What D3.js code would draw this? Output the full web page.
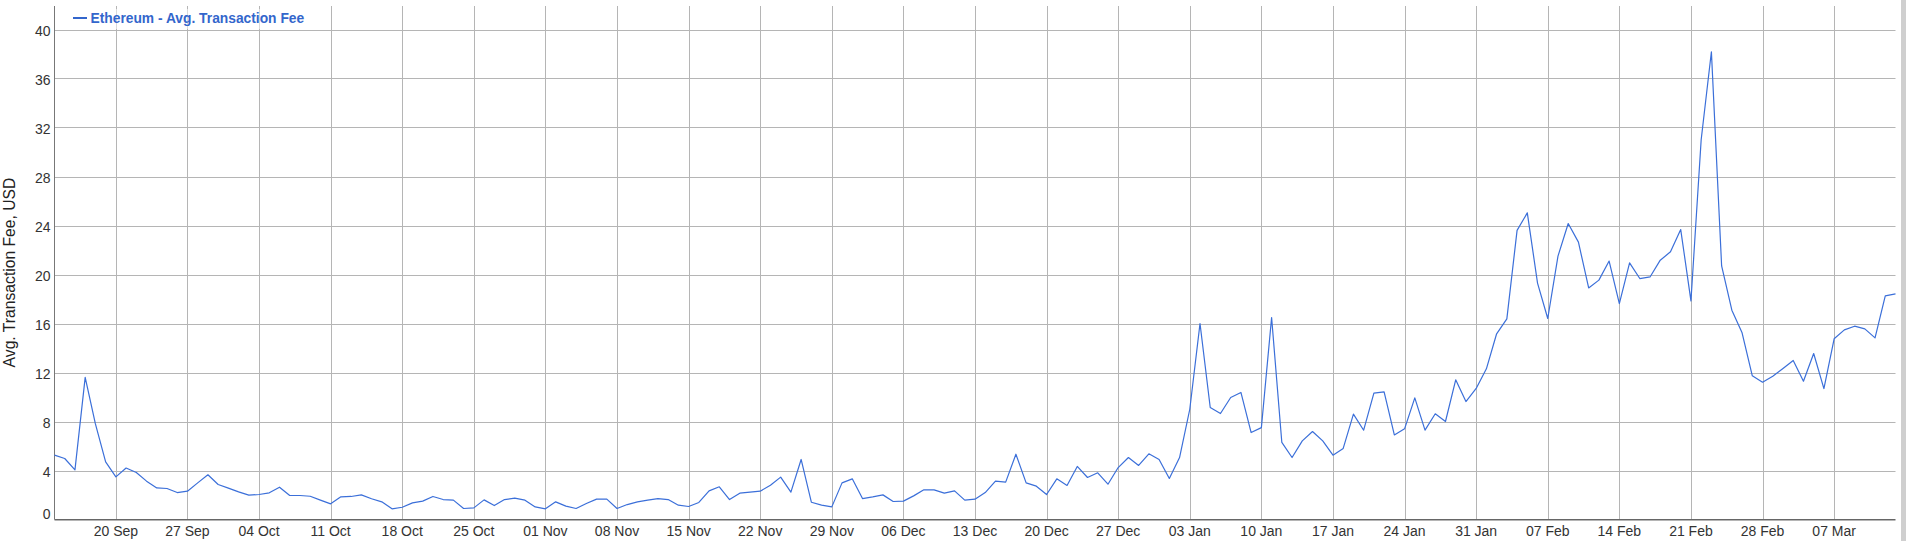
<!DOCTYPE html>
<html>
<head>
<meta charset="utf-8">
<script src="https://cdn.jsdelivr.net/npm/d3@7"></script>
<style>
  html, body { margin: 0; padding: 0; background: #fff; }
  svg { display: block; font-family: "Liberation Sans", Arial, sans-serif; }
</style>
</head>
<body>
<svg id="canvas" width="1906" height="541"></svg>
<script>
// daily values, first day 14 Sep 2020, last day 13 Mar 2021
let startDay = "2020-09-14"
let fees = [
  5.25, 4.98, 4.05, 11.6, 7.8, 4.7, 3.48, 4.2, 3.84, 3.13,
  2.58, 2.53, 2.2, 2.31, 2.99, 3.65, 2.86, 2.56, 2.26, 1.99,
  2.04, 2.18, 2.64, 1.96, 1.96, 1.9, 1.58, 1.28, 1.85, 1.88,
  2.01, 1.69, 1.44, 0.87, 1.0, 1.36, 1.5, 1.88, 1.63, 1.58,
  0.9, 0.95, 1.6, 1.14, 1.63, 1.74, 1.58, 1.03, 0.87, 1.44,
  1.09, 0.9, 1.31, 1.66, 1.66, 0.9, 1.22, 1.44, 1.58, 1.71,
  1.63, 1.17, 1.06, 1.39, 2.34, 2.67, 1.63, 2.15, 2.23, 2.31,
  2.8, 3.46, 2.23, 4.9, 1.41, 1.17, 1.03, 2.99, 3.32, 1.71,
  1.85, 2.01, 1.47, 1.5, 1.93, 2.42, 2.42, 2.15, 2.34, 1.58,
  1.66, 2.2, 3.13, 3.05, 5.33, 2.99, 2.72, 2.04, 3.32, 2.78,
  4.33, 3.43, 3.81, 2.88, 4.24, 5.06, 4.41, 5.36, 4.9, 3.35,
  5.06, 9.0, 16.0, 9.14, 8.65, 9.96, 10.37, 7.1, 7.5, 16.49,
  6.29, 5.06, 6.42, 7.18, 6.42, 5.25, 5.8, 8.6, 7.29, 10.31,
  10.42, 6.9, 7.4, 9.93, 7.3, 8.63, 8.0, 11.4, 9.63, 10.7,
  12.3, 15.16, 16.38, 23.6, 25.03, 19.3, 16.41, 21.5, 24.16, 22.64,
  18.9, 19.54, 21.1, 17.63, 20.95, 19.67, 19.8, 21.17, 21.85, 23.67,
  17.85, 31.0, 38.18, 20.7, 17.09, 15.24, 11.73, 11.21, 11.7, 12.33,
  12.98, 11.29, 13.55, 10.69, 14.75, 15.48, 15.78, 15.56, 14.83, 18.26,
  18.42
]
let yTicks = [0, 4, 8, 12, 16, 20, 24, 28, 32, 36, 40]
let seriesName = "Ethereum - Avg. Transaction Fee"
let yTitle = "Avg. Transaction Fee, USD"

let canvas = d3.select("#canvas")

let plotLeft = 54.5
let plotRight = 1895.5
let plotTop = 6
let plotBottom = 519.5

let start = new Date(startDay + "T00:00:00Z")
let data = fees.map((v, i) => {
  return { date: d3.utcDay.offset(start, i), value: v }
})

let xScale = d3.scaleUtc()
  .domain([data[0].date, data[data.length - 1].date])
  .range([plotLeft, plotRight])

let yScale = d3.scaleLinear()
  .domain([0, 40])
  .range([plotBottom, plotBottom - 40 * 12.25])

let weeks = xScale.ticks(d3.utcWeek.every(1))

// grid
canvas.append("g")
  .selectAll("line")
  .data(yTicks)
  .enter()
  .append("line")
  .attr("x1", plotLeft)
  .attr("x2", plotRight)
  .attr("y1", (d) => Math.round(yScale(d)) + 0.5)
  .attr("y2", (d) => Math.round(yScale(d)) + 0.5)
  .attr("stroke", "#b5b5b5")

canvas.append("g")
  .selectAll("line")
  .data(weeks)
  .enter()
  .append("line")
  .attr("x1", (d) => Math.round(xScale(d)) + 0.5)
  .attr("x2", (d) => Math.round(xScale(d)) + 0.5)
  .attr("y1", plotTop)
  .attr("y2", plotBottom)
  .attr("stroke", "#b5b5b5")

// axes lines
canvas.append("line")
  .attr("x1", plotLeft).attr("x2", plotLeft)
  .attr("y1", plotTop).attr("y2", plotBottom)
  .attr("stroke", "#777")
canvas.append("line")
  .attr("x1", plotLeft).attr("x2", plotRight)
  .attr("y1", plotBottom).attr("y2", plotBottom)
  .attr("stroke", "#666")
  .attr("stroke-width", 1.2)

// y tick labels
canvas.append("g")
  .selectAll("text")
  .data(yTicks)
  .enter()
  .append("text")
  .attr("x", 50.5)
  .attr("y", (d) => d === 0 ? yScale(d) - 1 : yScale(d) + 6.5)
  .attr("text-anchor", "end")
  .attr("font-size", "14px")
  .attr("fill", "#333")
  .text((d) => d)

// x tick labels
canvas.append("g")
  .selectAll("text")
  .data(weeks)
  .enter()
  .append("text")
  .attr("x", (d) => xScale(d))
  .attr("y", 536)
  .attr("text-anchor", "middle")
  .attr("font-size", "14px")
  .attr("fill", "#333")
  .text((d) => d3.utcFormat("%d %b")(d))

// y title
canvas.append("text")
  .attr("transform", "translate(14.5,272.5) rotate(-90)")
  .attr("text-anchor", "middle")
  .attr("font-size", "15.7px")
  .attr("fill", "#222")
  .text(yTitle)

// series
let line = d3.line()
  .x((d) => xScale(d.date))
  .y((d) => yScale(d.value))

canvas.append("path")
  .datum(data)
  .attr("d", line)
  .attr("fill", "none")
  .attr("stroke", "#3b6fd9")
  .attr("stroke-width", 1.2)
  .attr("stroke-linejoin", "round")

// legend
canvas.append("rect")
  .attr("x", 70).attr("y", 9)
  .attr("width", 240).attr("height", 20)
  .attr("fill", "#fff")
  .attr("opacity", 0.5)
canvas.append("line")
  .attr("x1", 73).attr("x2", 87)
  .attr("y1", 18).attr("y2", 18)
  .attr("stroke", "#3366cc")
  .attr("stroke-width", 2)
canvas.append("text")
  .attr("x", 90.5)
  .attr("y", 22.5)
  .attr("font-size", "13.8px")
  .attr("font-weight", "bold")
  .attr("fill", "#3366cc")
  .text(seriesName)

// scrollbar strip at the right edge
canvas.append("rect")
  .attr("x", 1901).attr("y", 0)
  .attr("width", 5).attr("height", 541)
  .attr("fill", "#cfcfcf")
</script>
</body>
</html>
